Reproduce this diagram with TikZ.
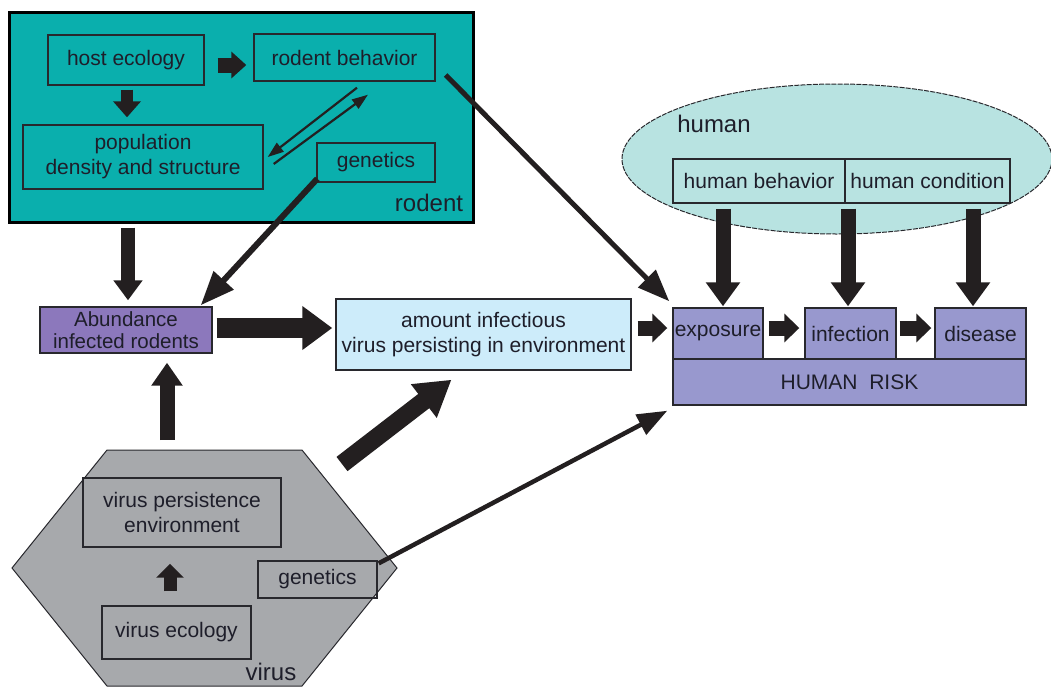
\documentclass[tikz,border=0pt]{standalone}
\usepackage{fontspec}
\setmainfont{Liberation Sans}
\usetikzlibrary{arrows.meta,calc,shapes.geometric}
\definecolor{tealc}{RGB}{10,175,173}
\definecolor{abc}{RGB}{140,120,188}
\definecolor{amtc}{RGB}{205,236,250}
\definecolor{hrc}{RGB}{152,152,206}
\definecolor{ellc}{RGB}{184,227,225}
\definecolor{hexc}{RGB}{167,169,172}
\definecolor{arrc}{RGB}{35,31,32}
\definecolor{txtc}{RGB}{30,30,42}
\definecolor{edgec}{RGB}{40,40,45}
\tikzset{
  box/.style={draw=edgec, line width=1.4pt, inner sep=0pt, align=center, text=txtc,
     font=\fontsize{21pt}{25pt}\selectfont},
  lbl/.style={inner sep=0pt, text=txtc, font=\fontsize{24pt}{26pt}\selectfont},
  blkarrow/.style args={#1/#2/#3}{draw=arrc, line width=#1, line cap=butt,
     -{Triangle[length=#3, width=#2]}},
  linarrow/.style args={#1/#2/#3}{draw=arrc, line width=#1, line cap=butt,
     -{Triangle[length=#3, width=#2]}},
}
\begin{document}
\begin{tikzpicture}[x=1pt, y=-1pt]
\useasboundingbox (0,0) rectangle (1051,686);
\fill[white] (0,0) rectangle (1051,686);

% ---------------- rodent block
\node[draw=black, line width=3pt, fill=tealc, minimum width=464pt, minimum height=210pt, inner sep=0pt] (rod) at (241,117) {};
\node[box, minimum width=156pt, minimum height=50pt] (host) at (126,60) {host ecology};
\node[box, minimum width=181pt, minimum height=47pt] (rb) at (344.5,57.5) {rodent behavior};
\node[box, minimum width=240pt, minimum height=64pt] (pop) at (143,157) {population\\density and structure};
\node[box, minimum width=118pt, minimum height=39pt] (rgen) at (376,162.5) {genetics};
\node[lbl] (rodlbl) at (429,203) {rodent};

% ---------------- human block
\node[draw=edgec, line width=1pt, dash pattern=on 5pt off 1.2pt, fill=ellc, ellipse, minimum width=430pt, minimum height=150pt, inner sep=0pt] (hum) at (837,159) {};
\node[lbl] (humlbl) at (714,124) {human};
\node[box, fill=ellc, minimum width=172pt, minimum height=44pt] (hb) at (759,181) {human behavior};
\node[box, fill=ellc, minimum width=165pt, minimum height=44pt] (hc) at (927.5,181) {human condition};

\node[box, fill=hrc, minimum width=353pt, minimum height=46pt] (hr) at (849.5,382) {HUMAN\ \ RISK};
\node[box, fill=hrc, minimum width=90pt, minimum height=51pt] (exp) at (718,333.5) {exposure};
\node[box, fill=hrc, minimum width=91pt, minimum height=51pt] (inf) at (850.5,333.5) {infection};
\node[box, fill=hrc, minimum width=91pt, minimum height=51pt] (dis) at (980.5,333.5) {disease};

% ---------------- middle
\node[box, fill=abc, minimum width=172pt, minimum height=46pt, font=\fontsize{20.5pt}{22pt}\selectfont] (ab) at (126,330) {Abundance\\infected rodents};
\node[box, fill=amtc, minimum width=295pt, minimum height=71pt] (amt) at (483.5,334.5) {amount infectious\\virus persisting in environment};

% ---------------- virus block
\draw[draw=edgec, line width=1pt, fill=hexc] (107,450) -- (302,450) -- (397,568) -- (302,686) -- (107,686) -- (12,568) -- cycle;
\coordinate (hextop) at (204.5,450);
\coordinate (hexTR) at (302,450);
\node[box, minimum width=198pt, minimum height=69pt] (vp) at (182,512.5) {virus persistence\\environment};
\node[box, minimum width=149pt, minimum height=53pt] (vec) at (176.5,632.5) {virus ecology};
\node[box, minimum width=119pt, minimum height=37pt] (vgen) at (317.5,579.5) {genetics};
\node[lbl] (virlbl) at (271,672) {virus};

% ---------------- arrows inside rodent
\draw[blkarrow=15pt/26pt/15pt] ([shift={(13,5)}]host.east) -- ([shift={(-7,7.5)}]rb.west);
\draw[blkarrow=12pt/27pt/16pt] ([shift={(1,4)}]host.south) -- ([shift={(1,-7)}]host.south |- pop.north);
\draw[linarrow=2.2pt/11pt/16pt] ([shift={(12.5,6)}]rb.south) -- ([shift={(4,0)}]pop.east);
\draw[linarrow=2.2pt/11pt/16pt] ([shift={(10,7)}]pop.east) -- ([shift={(23.5,13)}]rb.south);

% ---------------- long arrows
\draw[linarrow=5pt/24pt/32pt] ([shift={(10,17.5)}]rb.east) -- ([shift={(-3,-6)}]exp.north west);
\draw[linarrow=6pt/26pt/34pt] ([shift={(1,-4)}]rgen.south west) -- ([shift={(-12,-1)}]ab.north east);
\draw[blkarrow=14pt/28pt/20pt] ([shift={(2,4)}]ab.north |- rod.south) -- ([shift={(2,-6)}]ab.north);
\draw[blkarrow=20pt/42pt/30pt] ([shift={(4,-2)}]ab.east) -- ([shift={(-3,-6.5)}]amt.west);
\draw[blkarrow=15pt/28pt/15pt] ([shift={(6,-6.5)}]amt.east) -- ([shift={(-5,-5.5)}]exp.west);
\draw[blkarrow=15pt/28pt/15pt] ([shift={(5,-5.5)}]exp.east) -- ([shift={(-5,-5.5)}]inf.west);
\draw[blkarrow=15pt/28pt/15pt] ([shift={(3,-5.5)}]inf.east) -- ([shift={(-3,-5.5)}]dis.west);

\draw[blkarrow=15pt/33pt/24pt] ([shift={(5,5)}]exp.north |- hb.south) -- ([shift={(5,-1)}]exp.north);
\draw[blkarrow=15pt/33pt/24pt] ([shift={(-2.5,5)}]inf.north |- hb.south) -- ([shift={(-2.5,-1)}]inf.north);
\draw[blkarrow=15pt/33pt/24pt] ([shift={(-7.5,5)}]dis.north |- hc.south) -- ([shift={(-7.5,-1)}]dis.north);

\draw[blkarrow=15pt/30pt/23pt] ([shift={(-37.5,-10)}]hextop) -- ([shift={(41,9)}]ab.south);
\draw[blkarrow=18pt/40pt/35pt] ([shift={(40,14)}]hexTR) -- ([shift={(-32,9)}]amt.south);
\draw[blkarrow=13pt/27pt/14pt] ([shift={(-6.5,-14)}]vec.north) -- ([shift={(-12,16)}]vp.south);
\draw[linarrow=4.5pt/22pt/30pt] ([shift={(1,3)}]vgen.north east) -- ([shift={(-5,5)}]hr.south west);
\end{tikzpicture}
\end{document}
